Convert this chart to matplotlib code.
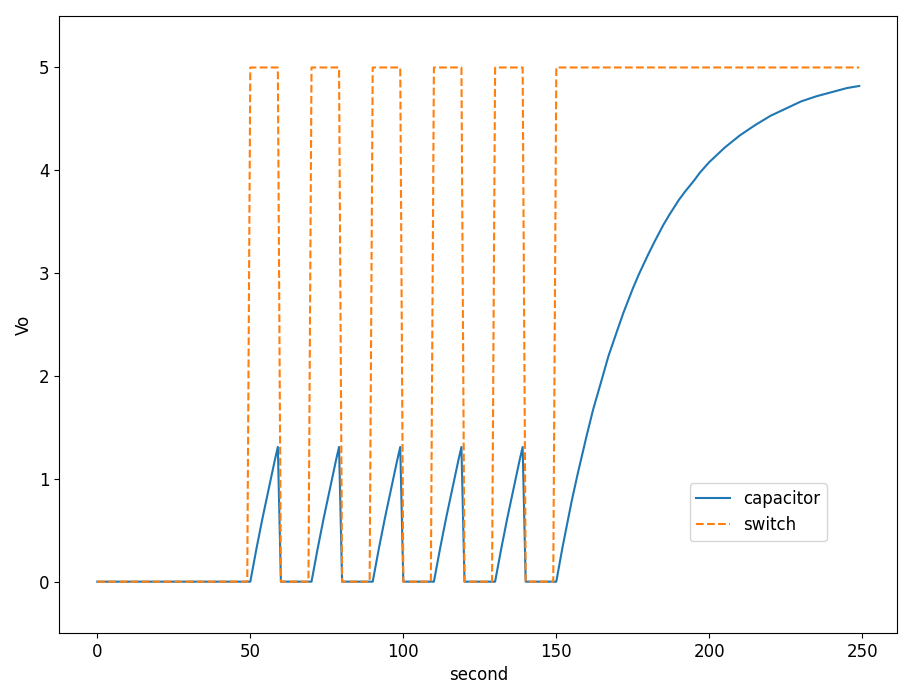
import numpy as np
import matplotlib
matplotlib.use("Agg")
import matplotlib.pyplot as plt

plt.rcParams["font.size"] = 12

# capacitor voltage
pulse_starts = [50, 70, 90, 110, 130]
pulse_rise = [0.0, 0.16, 0.32, 0.47, 0.62, 0.76, 0.90, 1.04, 1.18, 1.31]
final_t = [150, 152, 155, 157, 160, 162, 165, 167, 170, 172, 175, 177,
           180, 182, 185, 187, 190, 192, 195, 197, 200, 205, 210, 215,
           220, 225, 230, 235, 240, 245, 249]
final_v = [0.0, 0.33, 0.78, 1.05, 1.43, 1.67, 1.98, 2.19, 2.45, 2.62,
           2.85, 2.99, 3.18, 3.30, 3.47, 3.57, 3.71, 3.79, 3.90, 3.98,
           4.08, 4.22, 4.34, 4.44, 4.53, 4.60, 4.67, 4.72, 4.76, 4.80, 4.82]

# switch edges
switch_on = [50, 70, 90, 110, 130, 150]
switch_off = [60, 80, 100, 120, 140]
switch_high = 5
t_end = 249

cap_t = [0]
cap_v = [0.0]
for s in pulse_starts:
    cap_t += [s + i for i in range(len(pulse_rise))] + [s + len(pulse_rise)]
    cap_v += pulse_rise + [0.0]
cap_t += final_t
cap_v += final_v

sw_t = [0]
sw_v = [0]
for on, off in zip(switch_on, switch_off + [None]):
    sw_t += [on - 1, on]
    sw_v += [0, switch_high]
    if off is not None:
        sw_t += [off - 1, off]
        sw_v += [switch_high, 0]
sw_t.append(t_end)
sw_v.append(switch_high)

fig = plt.figure(figsize=(9.11, 6.98), dpi=100)
ax = fig.add_axes([0.065, 0.093, 0.92, 0.884])

ax.plot(cap_t, cap_v, label="capacitor")
ax.plot(sw_t, sw_v, "--", label="switch")
ax.set_ylim(-0.5, 5.5)
ax.set_xlabel("second")
ax.set_ylabel("Vo")
ax.legend(loc="center", bbox_to_anchor=(0.834, 0.196))

fig.savefig("out.png")
